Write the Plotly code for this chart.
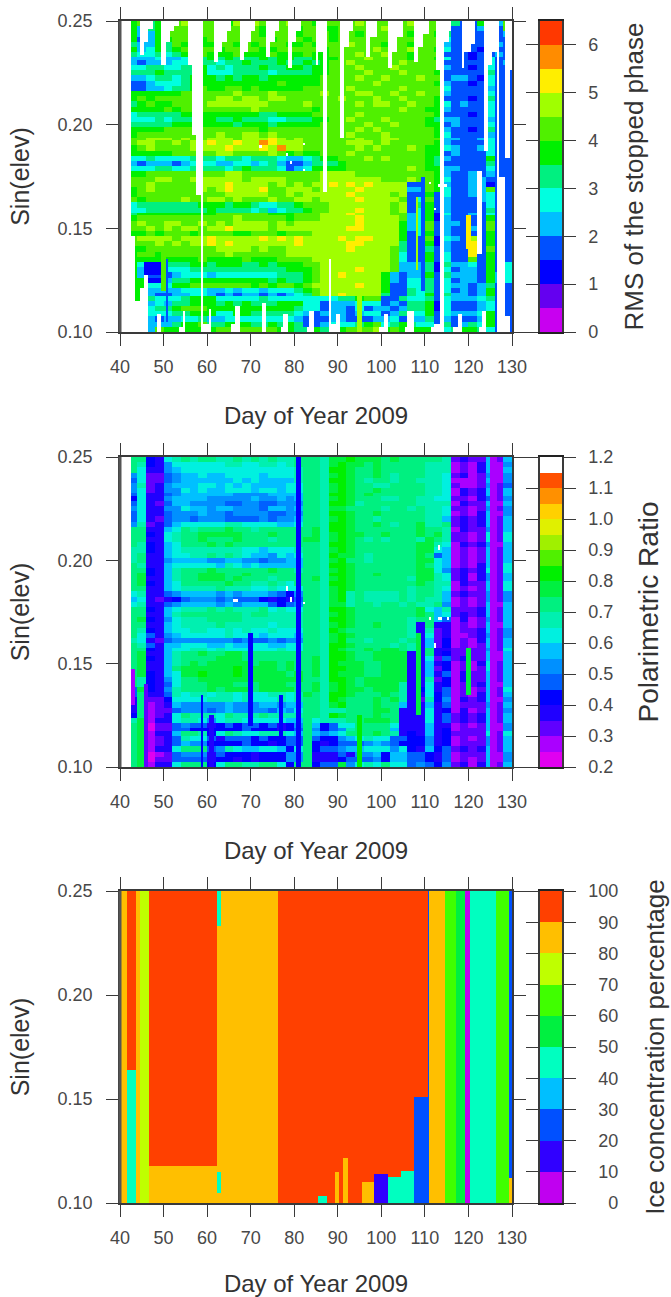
import plotly.graph_objects as go

W, H = 671, 1297
PLOT_L, PLOT_R, BAR_L, BAR_R = 120, 512, 540, 562
PANELS = [(21, 332), (457, 767), (891, 1203)]

day_ticks = [40, 50, 60, 70, 80, 90, 100, 110, 120, 130]
sin_ticks = [0.10, 0.15, 0.20, 0.25]
x_title = "Day of Year 2009"
y_title = "Sin(elev)"

# ---------- colour levels ----------
rms_colors = ["#c800f0", "#6400f0", "#0000ff", "#0050ff", "#00bfff", "#00ffe0", "#00f080",
              "#00f000", "#50f000", "#a0ff00", "#ffee00", "#ff8c00", "#ff3800"]
ratio_colors = ["#e000f0", "#aa00ff", "#6000ff", "#2000ff", "#0000ff", "#0060ff", "#0090ff",
                "#00c0ff", "#00f0e0", "#00f0b0", "#00f080", "#00f040", "#00f000", "#50f000",
                "#a0f000", "#e0f000", "#ffd000", "#ff9000", "#ff5000", "#ffffff"]
ice_colors = ["#c000f0", "#3000ff", "#0050ff", "#00bfff", "#00ffc0",
              "#00f040", "#40ff00", "#bfff00", "#ffbf00", "#ff4000"]

# ---------- panel 1: RMS, one character per 2 days (day 40 .. 128), rows top to bottom ----------
rms_levels = [
    "07867 88988 88798 98789 88788 88988 88898 88763 37548",
    "07467 88878 88888 87888 78877 88888 98889 88533 34838",
    "07447 88878 87887 87888 78887 88788 88878 87633 33634",
    "07347 78887 87887 88788 87887 88888 88888 88533 33433",
    "06447 68787 78878 78887 78788 89888 78878 88433 33343",
    "07457 67878 87888 87788 88878 88889 88898 87533 32433",
    "06556 56778 77787 77877 78778 88988 98878 88333 23343",
    "04445 44556 76766 67677 66777 88898 88878 87533 23533",
    "04344 45556 65667 66676 67678 89888 88988 88333 33534",
    "05566 55667 56566 67667 76778 88988 89888 88433 23533",
    "06667 66667 55566 66566 66778 88898 88988 87333 33633",
    "04456 65677 76767 76777 77788 88988 98889 88344 32533",
    "03345 55677 77777 77787 77788 88889 88888 87433 23533",
    "03344 56678 77887 87777 78888 89888 88988 88533 33433",
    "07777 77888 88898 88988 88898 88998 89889 88433 33533",
    "07878 88888 89989 98998 88888 98889 88988 87333 23633",
    "06787 78888 99999 99888 89888 88989 98898 87534 33533",
    "07777 87888 88888 98888 88788 88888 88988 77433 33533",
    "05666 66777 77777 76677 77888 88988 88888 87333 23533",
    "05556 56667 76676 66556 66778 89888 98888 76443 33433",
    "06666 67777 77767 77677 77788 88898 89888 77343 33533",
    "07777 88888 88888 87888 88888 88989 88888 87433 23633",
    "07888 88888 89889 98988 88888 89888 98888 87533 33433",
    "08899 98988 99989 99a98 98888 88988 99888 88443 34533",
    "08998 89899 a99a9 9ba99 98888 89998 98888 87433 33533",
    "07898 88899 99a99 9a9b9 98888 88989 88898 77543 34533",
    "07777 78888 89988 88987 87788 89888 88888 77343 33533",
    "05565 55566 65665 66654 45677 88898 98888 76433 33733",
    "04344 43455 54455 45643 34666 78888 88888 76333 33633",
    "05556 65566 66567 66653 45777 78888 88898 77443 33533",
    "07788 88888 88998 88888 88899 99888 88888 87433 43433",
    "08889 98899 99998 99998 88899 99999 88898 87533 44333",
    "08898 88889 99a99 99898 9899a 9a9a9 99933 87433 44233",
    "07898 88889 89a99 9a889 99899 99a99 99944 87533 44833",
    "07888 88888 88999 99889 89999 9a999 98933 73533 44533",
    "08788 88988 99898 88988 99899 99a99 99835 83433 34533",
    "05666 66667 77677 65566 78889 99999 98936 73433 33533",
    "05566 66666 76666 56456 67889 99a99 98935 73433 33633",
    "06777 77777 78888 88777 88899 9a999 98845 72533 43533",
    "07888 88888 88898 88887 88899 99a99 99845 72433 33733",
    "08988 99889 89899 99898 99999 99a99 99745 83443 33833",
    "08898 98998 99a99 99899 99999 9aa99 99745 83433 43833",
    "07787 88878 88877 88878 88999 99999 99735 73433 33733",
    "08999 98999 a9999 9a9a9 a9999 a9aa9 99733 82543 93733",
    "08889 89899 a9a99 99999 a9999 9aa99 99633 72433 a3733",
    "07788 88888 89999 89889 99999 9a999 98633 63433 a3833",
    "07887 88888 88988 88889 99999 99999 98533 73533 a3733",
    "07777 77778 77778 77788 88999 99999 98533 73533 83733",
    "07566 66677 67776 67677 78899 99999 98444 62644 53735",
    "07455 55566 66666 66667 77899 99a99 98444 62534 43735",
    "07433 34555 45555 55566 67899 a9999 74344 73644 43745",
    "07722 46677 77777 77676 67899 99999 74355 63534 43745",
    "07755 57788 88888 78788 78999 99a99 73355 63544 34633",
    "07744 44555 44545 54555 67899 99999 73365 63534 34733",
    "07743 34455 43434 43434 56899 a9999 63365 73644 34733",
    "07765 55677 75555 56555 55555 66788 33655 63544 45633",
    "07745 46677 76767 66677 75534 44555 34366 72533 34533",
    "07756 67888 77777 77777 65534 43534 43466 72533 34533",
    "07755 56677 75577 66666 54344 43455 34655 73544 45733",
    "07743 44556 44555 55555 43334 43334 45344 63433 34733",
    "07744 46778 66777 66767 63345 55678 56765 53634 65733",
    "07748 77777 78888 88877 66767 78889 78777 77567 76533",
]
# white gaps: day from, day to, sin low, sin high
rms_gaps = [
    (40, 42.5, .10, .25), (44.4, 45.5, .2336, .25), (45.5, 46.7, .2395, .25), (46.7, 47.5, .2468, .25),
    (49.6, 50.7, .2283, .25), (50.7, 51.5, .240, .25), (51.5, 52.5, .2444, .25), (52.5, 53.4, .248, .25),
    (55.5, 56.5, .2283, .25), (56.5, 57.6, .1953, .25), (57.6, 58.6, .166, .25), (58.6, 59.2, .10, .25),
    (61.6, 62.3, .2304, .25), (62.3, 63.3, .2355, .25), (63.3, 64.3, .2395, .25), (64.3, 65.5, .2444, .25),
    (67.5, 68.3, .2315, .25), (68.3, 69.3, .2355, .25), (69.3, 70, .24, .25), (70, 70.8, .2444, .25),
    (73.7, 74.5, .233, .25), (74.5, 75.5, .2395, .25), (75.5, 76.5, .2444, .25), (78.6, 79.3, .2275, .25),
    (79.3, 80.3, .2395, .25), (80.3, 81.3, .2444, .25), (84.8, 85.4, .2288, .25), (85.4, 86.3, .2347, .25),
    (86.3, 87.4, .1675, .25), (90.5, 91.4, .1937, .25), (91.4, 92.4, .2371, .25), (92.4, 93.5, .2444, .25),
    (96.5, 97.4, .2328, .25), (97.4, 98.8, .2425, .25), (101.4, 102.5, .2275, .25), (102.5, 103.7, .2355, .25),
    (103.7, 105.1, .2425, .25), (107.5, 108.6, .23, .25), (108.6, 109.6, .237, .25), (109.6, 110.8, .2435, .25),
    (112.5, 113.5, .2258, .25), (113.5, 114.7, .10, .25), (114.7, 115.4, .2395, .25), (115.4, 116.1, .2444, .25),
    (118.6, 119.2, .2275, .25), (119.2, 120.3, .2355, .25), (120.3, 121.5, .2385, .25), (123.6, 124.5, .1876, .25),
    (124.2, 125.3, .2288, .25), (125.3, 126.5, .2347, .25), (126.5, 127.2, .10, .25), (128.6, 129.5, .1836, .25),
    (129.5, 130, .2258, .25), (122, 123.2, .1375, .1776),
    (42.5, 43.6, .10, .146), (43.6, 44.4, .10, .115), (44.4, 45.5, .10, .121), (45.5, 46.7, .10, .1277),
    (48.4, 49.6, .10, .1092), (53.4, 54.5, .10, .1027), (54.5, 55, .10, .11), (59.2, 60.6, .10, .1035),
    (60.6, 61.2, .10, .111), (65.6, 66.5, .10, .104), (66.5, 67.3, .10, .1124), (72.7, 73.3, .10, .1132),
    (77.1, 77.7, .10, .102), (77.7, 78.3, .10, .109), (82.8, 83.7, .10, .102), (83.7, 84.4, .10, .11),
    (87.8, 88.4, .10, .135), (88.4, 89.7, .10, .1035), (89.7, 90.5, .10, .109), (99.7, 100.5, .10, .102),
    (100.5, 101.4, .10, .1092), (105.4, 106.2, .10, .102), (106.2, 107.5, .10, .11), (111.3, 112, .10, .102),
    (112, 113.5, .10, .104), (116.5, 117.4, .10, .1027), (117.4, 118.6, .10, .109), (122.5, 123.1, .10, .102),
    (123.1, 124.2, .10, .11), (127.2, 128.6, .10, .175), (128.6, 129.5, .10, .108),
    (72, 72.5, .1885, .19), (78, 78.5, .185, .1865), (79, 79.5, .181, .1825), (81.9, 82.4, .19, .1915),
    (81.9, 82.4, .1775, .179), (110.8, 111.3, .171, .1725), (113, 115, .1705, .1715), (111.9, 112.4, .1585, .16),
]
# narrow streaks: day from, day to, sin low, sin high, level
rms_streaks = [
    (45.6, 49.4, .1275, .1335, 2), (50.5, 51, .105, .135, 3), (49.6, 50.4, .12, .14, 8),
    (94.5, 95.5, .10, .12, 9), (119.6, 120.3, .14, .156, 10), (107.8, 108.6, .13, .165, 9), (109, 109.8, .12, .175, 3),
]

# ---------- panel 2: polarimetric ratio, same grid ----------
ratio_levels = [
    "0aa43 89a9a a99a9 a9a99 aaa9b bcbbb abaaa aa923 22727",
    "0a943 68888 88998 89989 aaa9b cbbab aaaaa 99912 13716",
    "0a833 67888 88888 88888 9aa9c cbaab aaaaa 99912 13717",
    "06822 56778 77888 87888 9aa9b cbaab a9aaa 99823 12616",
    "05822 56777 77787 87777 9aa9c cba9a a9aa9 99811 12716",
    "06923 67778 87878 77778 8aa9b cbaa9 9aaaa 99821 12625",
    "06823 66878 77888 78878 8aa9b cbaab aaaaa 99813 23727",
    "05833 56777 77766 66777 7aa9c cbaba aaaaa 99813 23727",
    "04833 67777 66666 76676 7aa9b cbaaa 99aa9 98822 13526",
    "05832 57766 66556 65566 6aa9c cb9aa aaaa9 99913 22717",
    "06833 66877 67766 65776 7aa9b baaaa 9aa9a 99822 12626",
    "05833 56667 66566 66556 6aa9c cbaab aaaaa 99812 13716",
    "05832 56656 66555 56566 7aa9b cbaa9 aaaaa 99723 23727",
    "06923 57888 88998 88877 8aa9c cbaab a9aab 99a23 23727",
    "0aa33 78a9a aabaa 9aaaa aab9c cbaaa aaaab aa913 22627",
    "0aa43 89aab bbbba aabaa aab9b cbbaa baaab ab922 12828",
    "0aa33 89aab aaaba aa9aa abb9b cba9a 9aaa9 ba922 12828",
    "0a943 78aaa babaa aaaaa aaa9c cbaaa aaaab b9813 23617",
    "09943 78999 99998 87888 9aa9b cbaaa aaaab b8712 12727",
    "09a33 78899 a9a98 77687 8aa9c bba9a aaaab a5712 12727",
    "09a33 67777 66776 65667 7aa9b caa9a aaaab b8712 12727",
    "0a933 78888 87987 87777 7aa9c cbaaa aaaab a8712 13728",
    "0aa43 79aaa baaaa aabaa 9aa9b cbaaa aaaab b8623 23828",
    "0ab43 79aab bbaab aaaaa aaa9c cbaab aaaab b9823 13627",
    "0ab33 79aab bbaba aa9aa aab9b cbaaa aaa9b b9823 13627",
    "0ab43 78aaa aabaa 99a98 aaa9c cbaaa aaaab a9913 22728",
    "0aa33 78999 9a999 88988 8aa9b cbaaa aaa9a a9812 12728",
    "08933 56777 76767 77654 6aa9b c9a99 99a9a a9723 22626",
    "07832 34566 65655 54343 5aa9b c9a99 99a9a 99712 12626",
    "08933 56777 76767 77545 6aa9b b9aa9 aa9a9 9a612 12717",
    "0aa43 78999 a9a99 9a898 8aa9c cbaaa aaaab 87922 23727",
    "0aa33 79aaa aaaa9 aa999 9aa9b cbaaa aaaab a7823 23727",
    "0ab43 68999 aaaa9 99999 9aa9c cbaaa aaa9a a7513 12627",
    "0aa33 78999 9a999 99899 9aa9b cbaab aaa93 a3312 12717",
    "0a943 78899 88989 88988 8aa9c baaaa aaa93 92312 23726",
    "0a853 67888 88988 87888 7aa9b cbaaa aaa93 82311 23626",
    "09832 56666 66656 55656 6aa9b caa9a aa9a3 72412 13727",
    "0a953 77888 77877 88778 8aa9c cbaaa a9a93 72412 12727",
    "0aa43 78899 89888 88898 8aa9c baaba bba93 a3322 22628",
    "0ab33 79aab aabba aaaaa aaa9c cbaab bbb33 a3422 22717",
    "0ab43 79aaa abbba aaaaa aab9c cbaab bbb33 82523 22717",
    "0ab33 79aba bbbbb abbab aab9c bbbaa bbb33 73412 13827",
    "0ab33 7abbb bbbcb bbbab aab9c cbbaa bbb33 72412 12827",
    "0ab43 78bbc bbbcb bbbba bab9c bbbaa bbb33 73513 22727",
    "0a943 68aab bbbbb bbbbb baa9c cbabb bbb33 92413 22727",
    "0a943 58aaa bbbaa abbba aab9b cbabb bb933 83412 23717",
    "05b43 69aaa babbb abbbb aab9b cbbab bb934 83512 12728",
    "05a33 59899 89989 88998 9ba9c cbaaa ba933 84512 13727",
    "03a22 48888 99989 88898 9aa9c baaab ab932 94613 23716",
    "03a12 37666 66766 67767 7aa9b caaab aa733 73512 22627",
    "03a12 25666 56766 66576 8aa99 9aaab ba333 83413 12726",
    "04a12 38a99 98a99 9a999 9aa9c baaab aa333 83523 23727",
    "09b13 38998 68998 88887 7a899 9aabb ba333 83523 23727",
    "0ab02 25655 34545 54534 6a745 88aaa a8333 73312 12716",
    "0ab02 25544 44445 44434 5a645 69aaa a7333 73412 22716",
    "0ab13 37aa9 48a98 89998 7a767 8aaab a9343 73422 22828",
    "0ab12 35988 53555 45445 5a544 67898 85544 63412 12627",
    "0ab12 35766 44445 44345 5a434 55567 65444 63412 22627",
    "0ab13 38aaa 56987 78874 8a455 67788 86843 74523 23727",
    "0ab01 25666 35444 34446 6a333 53667 47755 43512 22716",
    "0ab02 25555 34434 34446 6a333 45556 47755 43512 12716",
    "0ab13 38aaa 48aa9 9aa84 aa455 b6898 a8856 54623 13727",
]
ratio_gaps = [
    (40, 42.5, .10, .25), (78, 78.5, .185, .187), (79, 79.5, .1805, .182), (81.9, 82.4, .1785, .18),
    (66, 67, .1805, .1818), (113, 113.5, .205, .207), (110.8, 111.3, .1715, .173), (113, 114, .1715, .173),
    (114.9, 115.4, .171, .1725), (111.9, 112.4, .158, .16),
]
ratio_streaks = [
    (80.3, 81.3, .10, .25, 4), (125.2, 126.3, .10, .25, 1), (94.5, 95.3, .10, .125, 12), (108.2, 108.8, .125, .165, 11),
    (119.6, 120.3, .135, .157, 11), (58.3, 59.2, .10, .135, 4), (60.3, 61.3, .10, .125, 3), (69.6, 70.4, .12, .165, 4),
    (76.6, 77.6, .11, .135, 4), (42.7, 43.5, .13, .148, 1), (129.8, 130, .10, .25, 3), (45.6, 46.7, .10, .14, 2),
]

# ---------- panel 3: ice concentration ----------
ice_days = [40, 41.5, 43.6, 44.5, 46.7, 62.3, 63.3, 76.3, 85.5, 87.5, 89.4, 90.3, 91.3, 92.4, 95.6, 98.4,
            101.5, 104.5, 107.5, 110.8, 111, 114.6, 117.2, 119.2, 120.3, 126.3, 129.2, 130]
# for each column: (upper sin limit, value) from bottom to top
ice_columns = [
    [(.25, 85)], [(.164, 45), (.25, 95)], [(.25, 85)], [(.25, 75)],
    [(.118, 85), (.25, 95)], [(.105, 85), (.115, 45), (.233, 85), (.25, 45)], [(.25, 85)], [(.25, 95)],
    [(.1035, 45), (.25, 95)], [(.25, 95)], [(.115, 85), (.25, 95)], [(.25, 95)],
    [(.1217, 85), (.25, 95)], [(.25, 95)], [(.110, 85), (.25, 95)], [(.114, 15), (.25, 95)],
    [(.1125, 45), (.25, 95)], [(.1155, 45), (.25, 95)], [(.151, 25), (.25, 95)], [(.25, 25)],
    [(.25, 85)], [(.25, 65)], [(.25, 55)], [(.25, 5)], [(.25, 45)], [(.25, 65)], [(.112, 85), (.25, 25)],
]

# ---------- building the grids ----------
def decode(rows):
    digits = "0123456789abcdefghij"
    return [[digits.index(c) for c in r.replace(" ", "")] for r in rows]

def fine_grid(rows, gaps, streaks, step, base):
    xs = [40 + 0.5 * i for i in range(181)]
    ys = [0.10 + 0.00125 * i for i in range(121)]
    n = len(rows)
    z = []
    for j in range(120):
        s = ys[j] + 0.000625
        src = rows[min(n - 1, int((0.25 - s) / 0.15 * n))]
        line = []
        for i in range(180):
            d = xs[i] + 0.25
            lev = src[min(len(src) - 1, int((d - 40) / 2))]
            for a, b, lo, hi, v in streaks:
                if a <= d < b and lo <= s < hi:
                    lev = v
            v = base + (lev + 0.5) * step
            if any(a <= d < b and lo <= s < hi for a, b, lo, hi in gaps):
                v = None
            line.append(v)
        z.append(line)
    return xs, ys, z

def stepped(colors):
    n = len(colors)
    out = []
    for i, c in enumerate(colors):
        out += [[i / n, c], [(i + 1) / n, c]]
    return out

fig = go.Figure()
AX = "#3a3a3a"
TICK_FONT = dict(family="Liberation Sans", size=18, color="#484848")
TITLE_FONT = dict(family="Liberation Sans", size=24, color="#333333")

def px_x(a): return a / W
def px_y(a): return 1 - a / H

def add_panel(k, x, y, z, colors, zmin, zmax, bar_ticks, bar_text, bar_title, bar_size, bar_standoff):
    top, bottom = PANELS[k]
    na = "" if k == 0 else str(2 * k + 1)
    nb = str(2 * k + 2)
    cs = stepped(colors)
    fig.add_trace(go.Heatmap(x=x, y=y, z=z, colorscale=cs, zmin=zmin, zmax=zmax, showscale=False,
                             xaxis=f"x{na}", yaxis=f"y{na}", hoverongaps=False))
    n = len(colors)
    step = (zmax - zmin) / n
    edges = [zmin + i * step for i in range(n + 1)]
    fig.add_trace(go.Heatmap(x=[0, 1], y=edges, z=[[zmin + (i + .5) * step] for i in range(n)], colorscale=cs,
                             zmin=zmin, zmax=zmax, showscale=False, xaxis=f"x{nb}", yaxis=f"y{nb}"))
    common = dict(ticks="outside", ticklen=12, tickwidth=1, tickcolor=AX, showline=True, linecolor=AX, linewidth=1.5,
                  mirror="ticks", showgrid=False, zeroline=False, tickfont=TICK_FONT)
    fig.update_layout({
        f"xaxis{na}": dict(common, domain=[px_x(PLOT_L), px_x(PLOT_R)], range=[40, 130], tickvals=day_ticks,
                           anchor=f"y{na}", ticklabelstandoff=6,
                           title=dict(text=x_title, font=TITLE_FONT, standoff=31)),
        f"yaxis{na}": dict(common, domain=[px_y(bottom), px_y(top)], range=[0.10, 0.25], tickvals=sin_ticks,
                           ticktext=[f"{v:.2f}" for v in sin_ticks], anchor=f"x{na}", ticklabelstandoff=10,
                           title=dict(text=y_title, font=dict(TITLE_FONT, size=25), standoff=21)),
        f"xaxis{nb}": dict(domain=[px_x(BAR_L), px_x(BAR_R)], range=[0, 1], showticklabels=False, ticks="",
                           showline=True, linecolor="#222222", linewidth=1.5, mirror=True, showgrid=False,
                           zeroline=False, anchor=f"y{nb}"),
        f"yaxis{nb}": dict(common, domain=[px_y(bottom), px_y(top)], range=[zmin, zmax], tickvals=bar_ticks,
                           ticktext=bar_text, side="right", anchor=f"x{nb}", ticklabelstandoff=9,
                           title=dict(text=bar_title, font=dict(TITLE_FONT, size=bar_size), standoff=bar_standoff)),
    })
    fig.add_shape(type="line", xref=f"x{na} domain", yref=f"y{na} domain", x0=0, x1=0, y0=0, y1=1,
                  line=dict(color="#555555", width=3), layer="above")

x1, y1, z1 = fine_grid(decode(rms_levels), rms_gaps, rms_streaks, 0.5, 0.0)
x2, y2, z2 = fine_grid(decode(ratio_levels), ratio_gaps, ratio_streaks, 0.05, 0.2)

ice_y = sorted({.10} | {lim for col in ice_columns for lim, _ in col})
z3 = []
for j in range(len(ice_y) - 1):
    mid = (ice_y[j] + ice_y[j + 1]) / 2
    z3.append([next(v for lim, v in col if mid < lim) for col in ice_columns])

rms_ticks = [0, 1, 2, 3, 4, 5, 6]
ratio_ticks = [0.2, 0.3, 0.4, 0.5, 0.6, 0.7, 0.8, 0.9, 1.0, 1.1, 1.2]
ice_ticks = [0, 10, 20, 30, 40, 50, 60, 70, 80, 90, 100]
ice_text = [f"{v:d}".rjust(3).replace(" ", "\u00a0\u00a0") for v in ice_ticks]

add_panel(0, x1, y1, z1, rms_colors, 0, 6.5, rms_ticks, [str(v) for v in rms_ticks],
          "RMS of the stopped phase", 26, 27)
add_panel(1, x2, y2, z2, ratio_colors, 0.2, 1.2, ratio_ticks, [f"{v:.1f}" for v in ratio_ticks],
          "Polarimetric Ratio", 28, 26)
add_panel(2, ice_days, ice_y, z3, ice_colors, 0, 100, ice_ticks, ice_text,
          "Ice concentration percentage", 26, 28)

fig.update_layout(width=W, height=H, margin=dict(l=0, r=0, t=0, b=0, autoexpand=False),
                  paper_bgcolor="white", plot_bgcolor="white", showlegend=False)
fig.write_html("out.html", config={"displayModeBar": False}, post_script="document.body.style.margin='0';")
